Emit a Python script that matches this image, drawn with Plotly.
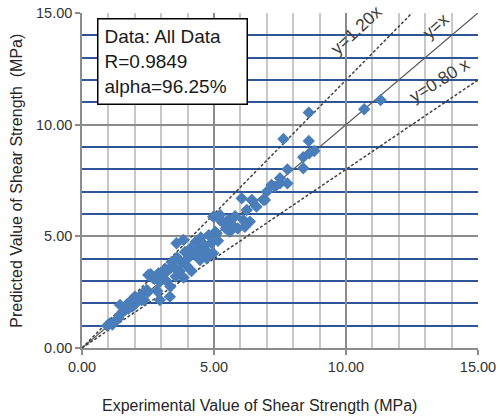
import plotly.graph_objects as go

exp_x = [0.95, 1.05, 1.15, 1.25, 1.38, 1.45, 1.44, 1.63, 1.70, 1.75, 1.88, 1.90, 2.00, 2.05, 2.15, 2.26, 2.30, 2.35, 2.45, 2.51,
         2.51, 2.60, 2.70, 2.75, 2.85, 2.90, 2.95, 2.95, 3.05, 3.14, 3.15, 3.20, 3.33, 3.33, 3.35, 3.40, 3.50, 3.55, 3.60, 3.58,
         3.70, 3.75, 3.84, 3.85, 3.90, 3.95,
         4.00, 4.10, 4.15, 4.25, 4.30, 4.47, 4.45, 4.50, 4.55, 4.65, 4.72, 4.75, 4.80, 4.90, 4.97, 4.97, 5.05, 5.15, 5.10, 5.23,
         5.23, 5.35, 5.45, 5.55, 5.60, 5.70, 5.60,
         5.80, 5.90, 6.05, 6.11, 6.24, 6.17, 6.36, 6.45, 6.61, 6.87, 6.93, 7.00, 7.18, 7.31, 7.50, 7.50, 7.63, 7.78, 7.78, 8.38,
         8.38, 8.61, 8.59, 8.59, 8.80, 10.69, 11.31, 6.43]
pred_y = [1.00, 1.10, 1.05, 1.20, 1.33, 1.50, 1.93, 1.70, 1.95, 1.75, 2.15, 1.85, 2.30, 2.00, 2.25, 2.15, 2.45, 2.15, 2.60, 2.52,
          3.27, 3.30, 3.12, 3.10, 2.55, 3.35, 2.97, 2.15, 3.25, 3.42, 3.55, 3.00, 3.57, 2.30, 2.75, 3.85, 3.60, 3.20, 4.05, 4.69,
          3.45, 3.85, 4.84, 3.15, 4.30, 3.70,
          4.00, 4.45, 3.45, 4.20, 4.75, 3.94, 4.45, 4.95, 4.10, 4.60, 4.02, 4.30, 5.05, 4.70, 4.24, 5.88, 5.20, 4.80, 5.13, 5.73,
          5.96, 5.60, 5.35, 5.75, 5.21, 5.50, 5.58,
          5.90, 5.35, 6.70, 5.73, 6.18, 5.43, 5.66, 6.60, 6.33, 6.63, 6.63, 7.00, 7.30, 7.22, 7.60, 7.37, 9.36, 8.00, 7.37, 8.05,
          8.54, 8.72, 9.27, 10.54, 8.82, 10.69, 11.10, 6.63]

ratio_lines = [1.20, 1.00, 0.80]
line_labels = ["y=1.20x", "y=x", "y=0.80 x"]
label_pos_x = [10.38, 13.40, 13.55]
label_pos_y = [14.25, 14.40, 12.00]
label_angle = [-43, -42, -32]

box_text = "Data: All Data<br>R=0.9849<br>alpha=96.25%"
x_title = "Experimental Value of Shear Strength (MPa)"
y_title = "Predicted Value of Shear Strength  (MPa)"

fig = go.Figure()

for r in ratio_lines:
    xs = [0, min(15, 15 / r)]
    ys = [v * r for v in xs]
    if r == 1.0:
        ln = dict(color="#5a5a5a", width=1.3)
    else:
        ln = dict(color="#404040", width=1.5, dash="3px,2px")
    fig.add_trace(go.Scatter(x=xs, y=ys, mode="lines", line=ln, hoverinfo="skip", showlegend=False))

fig.add_trace(go.Scatter(x=exp_x, y=pred_y, mode="markers",
                         marker=dict(symbol="diamond", size=9.5, color="#4A7EBB"),
                         showlegend=False))

for t, lx, ly, a in zip(line_labels, label_pos_x, label_pos_y, label_angle):
    fig.add_annotation(x=lx, y=ly, text=t, showarrow=False, textangle=a,
                       font=dict(family="Liberation Sans, Arial", size=17.5, color="#404040"))

fig.add_annotation(xref="paper", yref="paper", x=0.038, y=0.985, xanchor="left", yanchor="top",
                   text=box_text, showarrow=False, align="left", width=136, height=72,
                   bordercolor="black", borderwidth=1.5, borderpad=6, bgcolor="white",
                   font=dict(family="Liberation Sans, Arial", size=19, color="#1a1a1a"))

fig.add_annotation(xref="paper", yref="paper", x=0.449, y=-0.172, xanchor="center", yanchor="middle",
                   text=x_title, showarrow=False,
                   font=dict(family="Liberation Sans, Arial", size=16, color="#262626"))
fig.add_annotation(xref="paper", yref="paper", x=-0.166, y=0.5, xanchor="center", yanchor="middle",
                   text=y_title, showarrow=False, textangle=-90,
                   font=dict(family="Liberation Sans, Arial", size=16, color="#262626"))

axis_common = dict(range=[0, 15], dtick=5, tick0=0, tickformat=".2f", automargin=False,
                   showline=True, linecolor="#8c8c8c", linewidth=1.5,
                   ticks="outside", ticklen=5, tickcolor="#8c8c8c", tickwidth=1.5,
                   showgrid=True, gridcolor="#8c8c8c", gridwidth=1.5, zeroline=False,
                   tickfont=dict(family="Liberation Sans, Arial", size=14.5, color="#333333"),
                   fixedrange=True)

fig.update_xaxes(**axis_common, minor=dict(dtick=1, showgrid=True, gridcolor="#c8c8c8", gridwidth=1.5, ticks=""))
fig.update_yaxes(**axis_common, minor=dict(dtick=1, showgrid=True, gridcolor="#2e5597", gridwidth=1.5, ticks=""))

fig.update_layout(width=500, height=420, margin=dict(l=82, r=22, t=13, b=72, autoexpand=False),
                  paper_bgcolor="white", plot_bgcolor="white")

fig.write_html("out.html")
